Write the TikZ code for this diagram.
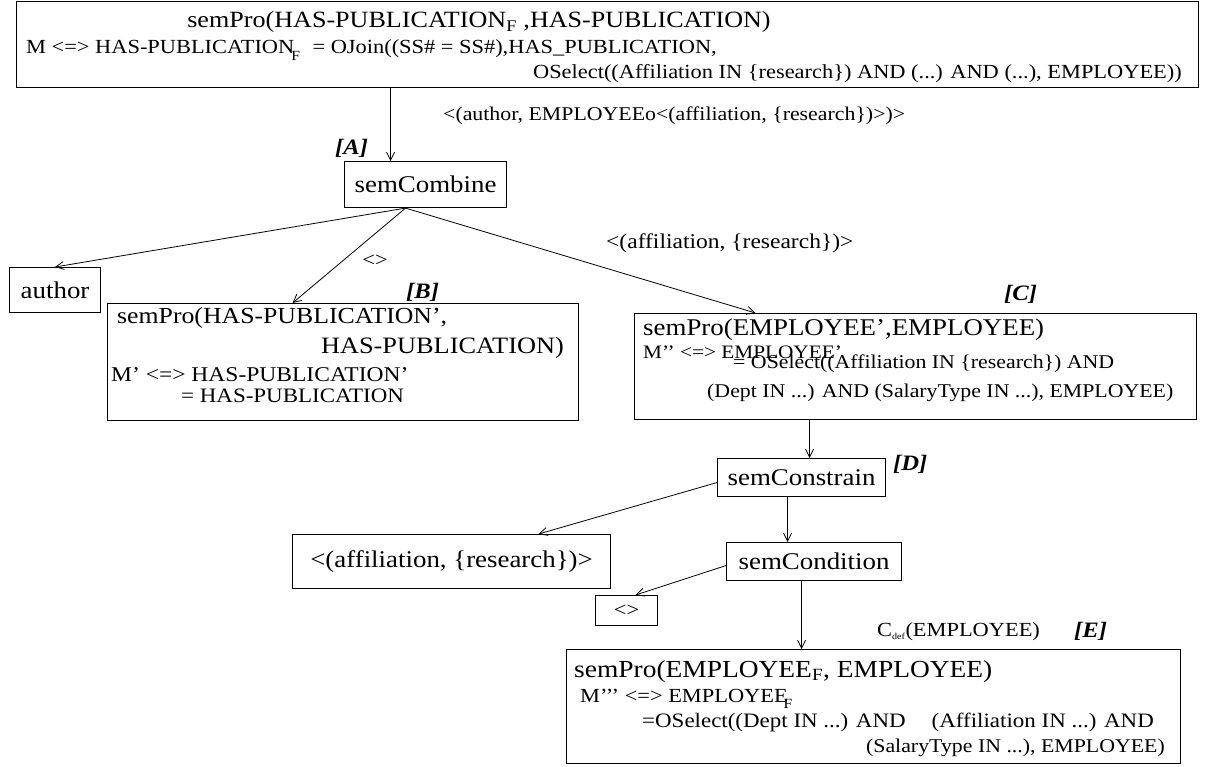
\documentclass[tikz,border=0pt]{standalone}
\usepackage{fontspec}
\setmainfont[FakeStretch=1.12]{Liberation Serif}
\usetikzlibrary{arrows.meta,calc}

\newcommand{\fs}[1]{\fontsize{#1}{#1}\selectfont}
\newcommand{\ftag}{\fontsize{22}{26}\selectfont\bfseries\itshape}
\newcommand{\lowF}{\raisebox{-3pt}{\textsubscript{F}}}

\tikzset{
  box/.style={draw, line width=1.1pt, inner sep=0pt, anchor=north west},
  txt/.style={inner sep=0pt, anchor=base west},
  txtr/.style={inner sep=0pt, anchor=base east},
  tag/.style={inner sep=0pt, anchor=base west, font=\ftag},
  edge/.style={line width=0.8pt, -{Straight Barb[length=8pt,width=8pt]}}
}

\begin{document}
\begin{tikzpicture}[x=1pt,y=-1pt]
\useasboundingbox (0,0) rectangle (1206,767);

% --- top: semPro for HAS-PUBLICATION_F
\node[box, minimum width=1182pt, minimum height=86pt] (top) at (16,1) {};
\node[inner sep=0pt, anchor=base, font=\fs{23.3}] (topt) at (479,28)
  {semPro(HAS-PUBLICATION\textsubscript{F} ,HAS-PUBLICATION)};
\node[txt, font=\fs{20}] (top2) at (26,54)
  {M <=> HAS-PUBLICATION\kern-3pt\lowF\kern12pt = OJoin((SS\# = SS\#),HAS\_PUBLICATION,};
\node[txtr, font=\fs{20}] (top3) at (1182,79)
  {OSelect((Affiliation IN \{research\}) AND (...) AND (...), EMPLOYEE))};

\node[txt, font=\fs{19.5}] (lab1) at (443,121)
  {<(author, EMPLOYEEo<(affiliation, \{research\})>)>};

% --- semCombine
\node[tag] (tA) at (335,155) {[A]};
\node[box, minimum width=162pt, minimum height=46pt, font=\fs{24}] (combine) at (344,161) {semCombine};

\node[box, minimum width=91pt, minimum height=45pt, font=\fs{24}] (author) at (9,267) {author};
\node[inner sep=0pt, font=\fs{20}] (lab2) at (375,261) {<>};

% --- [B]
\node[tag] (tB) at (406,298) {[B]};
\node[box, minimum width=471pt, minimum height=117pt] (B) at (107,303) {};
\node[txt, font=\fs{23}] (B1) at (117,323) {semPro(HAS-PUBLICATION’,};
\node[txtr, font=\fs{23.5}] (B2) at (564,353) {HAS-PUBLICATION)};
\node[txt, font=\fs{21}] (B3) at (111,381) {M’ <=> HAS-PUBLICATION’};
\node[txt, font=\fs{20.5}] (B4) at (181,402) {= HAS-PUBLICATION};

% --- [C]
\node[txt, font=\fs{21}] (lab3) at (606,248) {<(affiliation, \{research\})>};
\node[tag] (tC) at (1004,300) {[C]};
\node[box, minimum width=562pt, minimum height=106pt] (C) at (634,313) {};
\node[txt, font=\fs{24}] (C1) at (643,335) {semPro(EMPLOYEE’,EMPLOYEE)};
\node[txt, font=\fs{19}] (C2) at (643,358) {M’’ <=> EMPLOYEE’};
\node[txt, font=\fs{19.5}] (C3) at (733,368) {= OSelect((Affiliation IN \{research\}) AND};
\node[txt, font=\fs{19.5}] (C4) at (707,397) {(Dept IN ...) AND (SalaryType IN ...), EMPLOYEE)};

% --- [D]
\node[box, minimum width=168pt, minimum height=38pt, font=\fs{24}] (constrain) at (717,458) {semConstrain};
\node[tag] (tD) at (893,470) {[D]};
\node[box, minimum width=318pt, minimum height=54pt, font=\fs{24}] (aff) at (292,534) {<(affiliation, \{research\})>};
\node[box, minimum width=175pt, minimum height=38pt, font=\fs{24}] (cond) at (726,542) {semCondition};
\node[box, minimum width=62pt, minimum height=30pt, font=\fs{20}] (empty) at (595,595) {<>};

% --- [E]
\node[txt, font=\fs{20}] (lab4) at (877,636) {C\textsubscript{\fontsize{9}{10}\selectfont def}(EMPLOYEE)};
\node[tag] (tE) at (1074,637) {[E]};
\node[box, minimum width=614pt, minimum height=114pt] (E) at (566,649) {};
\node[txt, font=\fs{24.5}] (E1) at (574,677) {semPro(EMPLOYEE\textsubscript{F}, EMPLOYEE)};
\node[txt, font=\fs{20}] (E2) at (580,702) {M’’’ <=> EMPLOYEE\kern-4pt\lowF};
\node[txt, font=\fs{20.5}] (E3) at (642,727) {=OSelect((Dept IN ...) AND\hspace{26pt}(Affiliation IN ...) AND};
\node[txtr, font=\fs{19.5}] (E4) at (1165,752) {(SalaryType IN ...), EMPLOYEE)};

% --- connectors
\coordinate (cin) at ([xshift=-35pt]combine.north);
\draw[edge] (top.south -| cin) -- (cin);
\coordinate (cout) at ([xshift=-20pt]combine.south);
\draw[edge] (cout) -- (author.north);
\draw[edge] (cout) -- ([xshift=-50.5pt]B.north);
\draw[edge] (cout) -- ([xshift=-160pt]C.north);
\coordinate (kin) at ([xshift=8pt]constrain.north);
\draw[edge] (kin |- C.south) -- (kin);
\draw[edge] ([yshift=-5pt]constrain.west) -- ([xshift=87pt]aff.north);
\coordinate (kout) at ([xshift=-14pt]constrain.south);
\draw[edge] (kout) -- (kout |- cond.north);
\draw[edge] ([yshift=-4pt]cond.west) -- ([xshift=9pt]empty.north);
\coordinate (ein) at ([xshift=-12.5pt]cond.south);
\draw[edge] (ein) -- (ein |- E.north);
\end{tikzpicture}
\end{document}
